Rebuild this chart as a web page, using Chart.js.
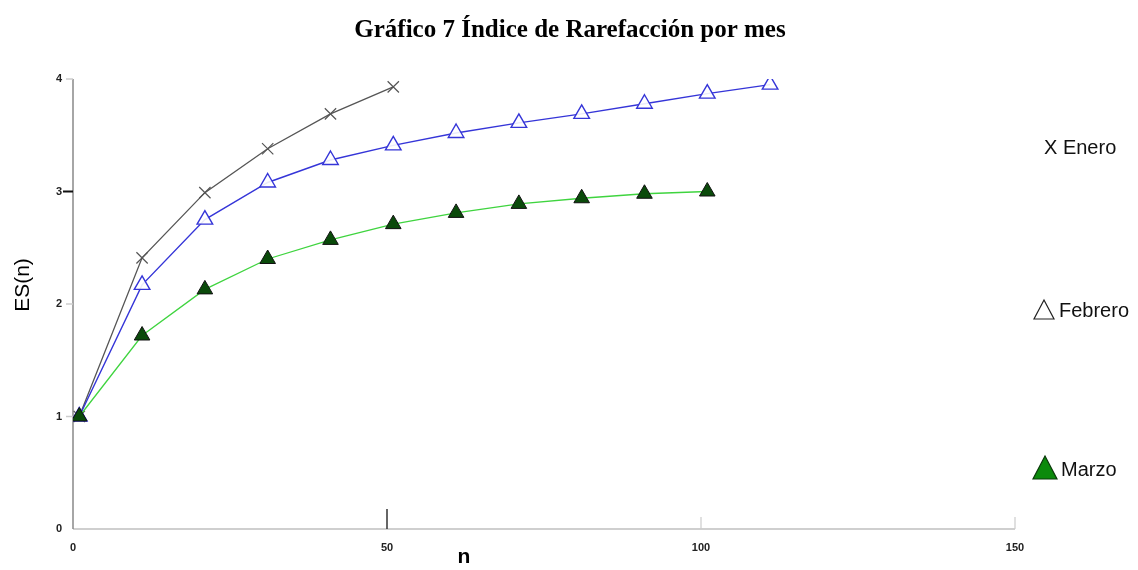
<!DOCTYPE html>
<html><head><meta charset="utf-8">
<script src="https://cdn.jsdelivr.net/npm/chart.js@4.4.0/dist/chart.umd.min.js"></script>
<style>html,body{margin:0;padding:0;background:#fff}#wrap{width:1138px;height:570px;position:relative}</style>
</head><body><div id="wrap"><canvas id="c" width="1138" height="570"></canvas></div>
<script>
const titleText = 'Gráfico 7 Índice de Rarefacción por mes';
const xTitle = 'n';
const yTitle = 'ES(n)';
const seriesNames = ['Enero', 'Febrero', 'Marzo'];
const nEnero = [1, 11, 21, 31, 41, 51];
const esEnero = [1.0, 2.41, 2.99, 3.38, 3.69, 3.93];
const nFebrero = [1, 11, 21, 31, 41, 51, 61, 71, 81, 91, 101, 111];
const esFebrero = [1.0, 2.17, 2.75, 3.08, 3.28, 3.41, 3.52, 3.61, 3.69, 3.78, 3.87, 3.95];
const nMarzo = [1, 11, 21, 31, 41, 51, 61, 71, 81, 91, 101];
const esMarzo = [1.0, 1.72, 2.13, 2.40, 2.57, 2.71, 2.81, 2.89, 2.94, 2.98, 3.00];
const xTicks = [0, 50, 100, 150];
const yTicks = [0, 1, 2, 3, 4];

const toPts = (xs, ys) => xs.map((x, i) => ({x, y: ys[i]}));

const deco = {
  id: 'deco',
  beforeDatasetsDraw(chart) {
    const ctx = chart.ctx, xs = chart.scales.x, ys = chart.scales.y;
    ctx.save();
    ctx.strokeStyle = '#cfcfcf'; ctx.lineWidth = 2;
    ctx.beginPath(); ctx.moveTo(xs.left, ys.bottom); ctx.lineTo(xs.right, ys.bottom); ctx.stroke();
    ctx.strokeStyle = '#888'; ctx.lineWidth = 1.5;
    ctx.beginPath(); ctx.moveTo(xs.left, ys.top); ctx.lineTo(xs.left, ys.bottom); ctx.stroke();
    yTicks.forEach(v => {
      if (v === 0) return;
      const y = ys.getPixelForValue(v);
      ctx.strokeStyle = v === 3 ? '#111' : '#ccc';
      ctx.lineWidth = v === 3 ? 2 : 1.5;
      ctx.beginPath(); ctx.moveTo(xs.left - (v === 3 ? 10 : 7), y); ctx.lineTo(xs.left, y); ctx.stroke();
    });
    xTicks.forEach(v => {
      if (v === 0) return;
      const x = xs.getPixelForValue(v);
      ctx.strokeStyle = v === 50 ? '#333' : '#ccc';
      ctx.lineWidth = v === 50 ? 1.5 : 1.2;
      ctx.beginPath(); ctx.moveTo(x, ys.bottom); ctx.lineTo(x, ys.bottom - (v === 50 ? 20 : 12)); ctx.stroke();
    });
    ctx.restore();
  },
  afterDraw(chart) {
    const ctx = chart.ctx;
    ctx.save();
    ctx.fillStyle = '#000';
    ctx.textAlign = 'center'; ctx.textBaseline = 'alphabetic';
    ctx.font = 'bold 25px "Liberation Serif", "Times New Roman", serif';
    ctx.fillText(titleText, 570, 37);
    ctx.textBaseline = 'middle';
    ctx.font = 'bold 21px "Liberation Sans", Arial, sans-serif';
    ctx.fillText(xTitle, 464, 557);
    ctx.save();
    ctx.translate(23, 285); ctx.rotate(-Math.PI / 2);
    ctx.font = '21px "Liberation Sans", Arial, sans-serif';
    ctx.fillText(yTitle, 0, 0);
    ctx.restore();
    ctx.textAlign = 'left';
    ctx.font = '20px "Liberation Sans", Arial, sans-serif';
    ctx.fillStyle = '#111';
    ctx.fillText('X ' + seriesNames[0], 1044, 148);
    ctx.strokeStyle = '#222'; ctx.lineWidth = 1.2; ctx.fillStyle = '#fff';
    ctx.beginPath(); ctx.moveTo(1044, 300); ctx.lineTo(1054, 319); ctx.lineTo(1034, 319); ctx.closePath(); ctx.fill(); ctx.stroke();
    ctx.fillStyle = '#111';
    ctx.fillText(seriesNames[1], 1059, 311);
    ctx.fillStyle = '#0b8a0b'; ctx.strokeStyle = '#0a3a0a';
    ctx.beginPath(); ctx.moveTo(1045, 456); ctx.lineTo(1057, 479); ctx.lineTo(1033, 479); ctx.closePath(); ctx.fill(); ctx.stroke();
    ctx.fillStyle = '#111';
    ctx.fillText(seriesNames[2], 1061, 470);
    ctx.restore();
  }
};

new Chart(document.getElementById('c'), {
  type: 'scatter',
  data: {
    datasets: [
      { label: seriesNames[2], data: toPts(nMarzo, esMarzo), showLine: true, borderColor: '#3fd43f', borderWidth: 1.3,
        tension: 0, pointStyle: 'triangle', pointRadius: 9, pointBackgroundColor: '#0a4a0a', pointBorderColor: '#111', pointBorderWidth: 1 },
      { label: seriesNames[1], data: toPts(nFebrero, esFebrero), showLine: true, borderColor: '#3535d8', borderWidth: 1.4,
        tension: 0, pointStyle: 'triangle', pointRadius: 9, pointBackgroundColor: 'rgba(255,255,255,0.9)', pointBorderColor: '#3535d8', pointBorderWidth: 1.4 },
      { label: seriesNames[0], data: toPts(nEnero, esEnero), showLine: true, borderColor: '#555', borderWidth: 1.3,
        tension: 0, pointStyle: 'crossRot', pointRadius: 8, pointBorderColor: '#555', pointBorderWidth: 1.2 }
    ]
  },
  options: {
    responsive: false, animation: false,
    layout: { padding: { left: 33, right: 123, top: 79, bottom: 0 } },
    plugins: { legend: { display: false }, tooltip: { enabled: false }, title: { display: false } },
    scales: {
      x: { type: 'linear', min: 0, max: 150,
        afterBuildTicks: s => { s.ticks = xTicks.map(v => ({value: v})); },
        afterFit: s => { s.height = 41; },
        grid: { display: false, drawTicks: false }, border: { display: false },
        ticks: { padding: 12, color: '#222', font: { size: 11, weight: 'bold', family: '"Liberation Sans Narrow", "Liberation Sans", Arial' }, maxRotation: 0 } },
      y: { min: 0, max: 4,
        afterBuildTicks: s => { s.ticks = yTicks.map(v => ({value: v})); },
        afterFit: s => { s.width = 40; },
        grid: { display: false, drawTicks: false }, border: { display: false },
        ticks: { padding: 11, color: '#222', font: { size: 11, weight: 'bold', family: '"Liberation Sans Narrow", "Liberation Sans", Arial' } } }
    }
  },
  plugins: [deco]
});
</script></body></html>
